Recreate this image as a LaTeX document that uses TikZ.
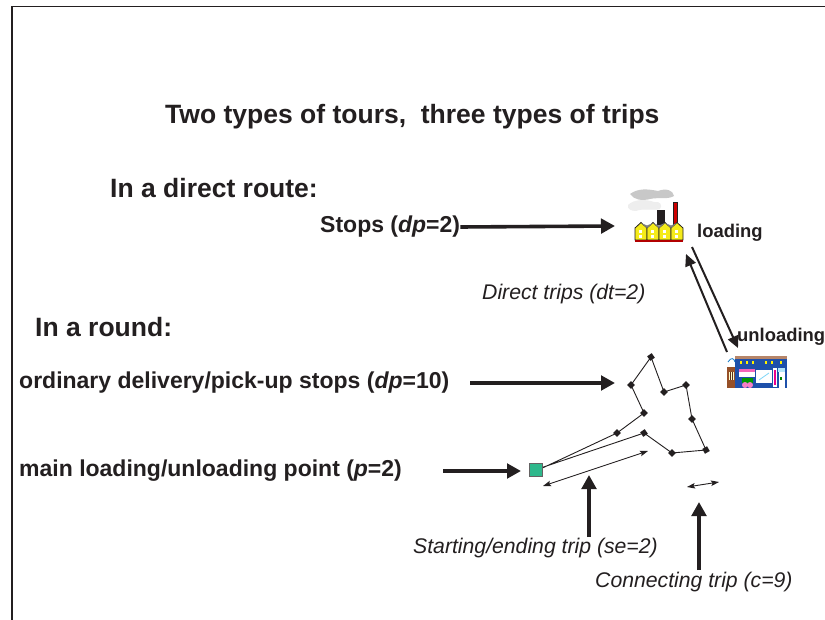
\documentclass[tikz,border=0pt]{standalone}
\usepackage{fontspec}
\setmainfont{Liberation Sans}
\usetikzlibrary{arrows.meta}
\definecolor{ink}{RGB}{35,31,32}
\definecolor{tealgreen}{RGB}{46,184,140}
\definecolor{fyellow}{RGB}{245,235,26}
\definecolor{sblue}{RGB}{30,80,170}
\definecolor{smoke}{RGB}{200,200,200}
\definecolor{brick}{RGB}{150,80,40}
\tikzset{
  head/.style={font=\bfseries\fontsize{26.5}{30}\selectfont, text=ink, anchor=west, inner sep=0pt},
  lab/.style={font=\bfseries\fontsize{23}{27}\selectfont, text=ink, anchor=west, inner sep=0pt},
  smalllab/.style={font=\bfseries\fontsize{18.4}{22}\selectfont, text=ink, anchor=west, inner sep=0pt},
  triplab/.style={font=\itshape\fontsize{21.2}{25}\selectfont, text=ink, anchor=west, inner sep=0pt},
  bigarrow/.style={draw=ink, line width=3.6pt, -{Triangle[length=14pt,width=14.5pt]}},
  midarrow/.style={draw=ink, line width=2pt, -{Triangle[length=12pt,width=11pt]}},
  thinarrow/.style={draw=ink, line width=0.9pt, {Stealth[length=8pt,width=5.5pt,inset=1.5pt]}-{Stealth[length=8pt,width=5.5pt,inset=1.5pt]}},
  edge/.style={draw=ink, line width=0.9pt},
  vert/.style={fill=ink, rectangle, minimum size=5.5pt, inner sep=0pt, rotate=45},
  frame/.style={draw=ink, line width=1.5pt}
}
\begin{document}
\begin{tikzpicture}[x=1pt,y=-1pt]
\useasboundingbox (0,0) rectangle (825,620);
\fill[white] (0,0) rectangle (825,620);
% frame
\draw[frame] (12,620) -- (12,6.5) -- (825,6.5);

% texts
\node[head] (title) at (165,117) {Two types of tours,\ \ three types of trips};
\node[head] (direct) at (110,188) {In a direct route:};
\node[lab] (stops) at (320,227) {Stops (\textit{dp}=2)};
\node[smalllab] (loading) at (697,233) {loading};
\node[triplab] (dtrips) at (482,294) {Direct trips (dt=2)};
\node[head] (round) at (35,327) {In a round:};
\node[smalllab] (unloading) at (737,337) {unloading};
\node[lab] (ordinary) at (19,383) {ordinary delivery/pick-up stops (\textit{dp}=10)};
\node[lab] (mainpt) at (19,471) {main loading/unloading point (\textit{p}=2)};
\node[triplab] (starttxt) at (413,548) {Starting/ending trip (se=2)};
\node[triplab] (conntxt) at (595,582) {Connecting trip (c=9)};

% factory icon
\node[inner sep=0pt, minimum width=52pt, minimum height=54pt] (factory) at (657,216) {};
\begin{scope}
  \fill[smoke] (630,194) .. controls (638,188) and (648,189) .. (658,191) .. controls (666,188) and (673,190) .. (674,196) .. controls (667,200) and (658,197) .. (650,199) .. controls (642,201) and (634,200) .. (630,194) -- cycle;
  \fill[smoke!85!black!20!white] (628,205) .. controls (634,199) and (646,199) .. (654,202) .. controls (660,201) and (663,205) .. (660,209) .. controls (653,211) and (643,208) .. (636,211) .. controls (631,211) and (627,209) .. (628,205) -- cycle;
  \fill[ink] (657,210) rectangle (665,225);
  \fill[red!80!black] (673,202) rectangle (677,225);
  \draw[ink, line width=0.5pt] (673,202) rectangle (677,225);
  \foreach \i in {0,1,2,3}{
    \pgfmathsetmacro{\L}{635+12*\i}
    \pgfmathsetmacro{\R}{\L+12}
    \pgfmathsetmacro{\C}{\L+6}
    \filldraw[fill=fyellow, draw=ink, line width=0.8pt] (\L,240) -- (\L,228) -- (\C,222.5) -- (\R,228) -- (\R,240) -- cycle;
    \fill[white] (\C-2.2,230) rectangle ++(2.8,2.8);
    \fill[white] (\C-2.2,235.5) rectangle ++(2.8,2.8);
  }
  \foreach \i in {0,1,2}{
    \pgfmathsetmacro{\Ca}{635+6+12*\i}
    \pgfmathsetmacro{\Cb}{\Ca+12}
    \pgfmathsetmacro{\M}{\Ca+6}
    \fill[gray] (\Ca,223) -- (\M,228) -- (\Cb,223) -- (\M,225.5) -- cycle;
  }
  \fill[red!70!black] (635,240) rectangle (683,242);
\end{scope}

% shop icon
\node[inner sep=0pt, minimum width=60pt, minimum height=34pt] (shop) at (757,371) {};
\begin{scope}
  \fill[brick] (727,367) rectangle (736,388);
  \fill[white] (727,360) rectangle (736,367);
  \draw[cyan!60!blue, line width=0.8pt] (728,362) .. controls (731,357) and (734,358) .. (735,362);
  \fill[white!80!yellow] (729,372) rectangle (734,380);
  \draw[brick!60!black, line width=0.5pt] (730.5,372) -- (730.5,380) (732.5,372) -- (732.5,380);
  \fill[sblue] (735,357) rectangle (787,388);
  \fill[brick!70!white] (735,356) rectangle (787,359);
  \foreach \x in {740,746,752,765,771,780}{\fill[yellow] (\x,361.5) rectangle ++(2.2,2.5);}
  \fill[white] (739,369) rectangle (755,377);
  \fill[magenta!60] (739,369) rectangle (755,372);
  \fill[green!60!black] (742,378) rectangle (753,383);
  \fill[magenta!50] (745,385) circle (3);
  \fill[magenta!50] (750,385) circle (3);
  \fill[white] (756,370) rectangle (772,383);
  \draw[cyan!50, line width=0.8pt] (759,380) -- (769,373);
  \fill[white] (773,368) rectangle (777,387);
  \fill[magenta] (774,370) rectangle (776,385);
  \fill[cyan!30] (778,368) rectangle (785,372);
  \fill[white] (779,372) rectangle (785,388);
  \fill[green!50!black] (780,377) rectangle (782,380);
\end{scope}

% direct route arrows
\coordinate (stopsTip) at (615,226);
\draw[bigarrow] (stops.east) -- (stopsTip);
\coordinate (fA) at (692,247);
\coordinate (sA) at (738,348);
\coordinate (sB) at (727,352);
\coordinate (fB) at (686,254);
\draw[midarrow] (fA) -- (sA);
\draw[midarrow] (sB) -- (fB);

% round: vertices
\node[draw=ink!70, fill=tealgreen, line width=0.6pt, minimum size=13.5pt, inner sep=0pt] (g) at (536,470) {};
\node[vert] (v1) at (617,433) {};
\node[vert] (v2) at (644,413) {};
\node[vert] (v3) at (631,385) {};
\node[vert, rotate=-10] (v4) at (651,357) {};
\node[vert] (v5) at (664,392) {};
\node[vert] (v6) at (686,385) {};
\node[vert] (v7) at (692,419) {};
\node[vert, rotate=-15] (v8) at (706,450) {};
\node[vert] (v9) at (672,453) {};
\node[vert, rotate=-10] (v10) at (644,433) {};
\draw[edge] (g.18) -- (v1.center) -- (v2.center) -- (v3.center) -- (v4.center) -- (v5.center) -- (v6.center) -- (v7.center) -- (v8.center) -- (v9.center) -- (v10.center) -- (g.22);

% starting/ending trip and connecting trip
\coordinate (seA) at (543,486);
\coordinate (seB) at (648,451);
\draw[thinarrow] (seA) -- (seB);
\coordinate (cA) at (687,487);
\coordinate (cB) at (719,482);
\draw[thinarrow] (cA) -- (cB);

% round arrows
\coordinate (ordTail) at (470,383);
\coordinate (ordTip) at (615,383);
\draw[bigarrow] (ordTail) -- (ordTip);
\coordinate (mainTail) at (443,471);
\coordinate (mainTip) at (521,471);
\draw[bigarrow] (mainTail) -- (mainTip);
\coordinate (seTail) at (589,537);
\coordinate (seTip) at (589,475);
\draw[bigarrow] (seTail) -- (seTip);
\coordinate (cTail) at (699,570);
\coordinate (cTip) at (699,502);
\draw[bigarrow] (cTail) -- (cTip);
\end{tikzpicture}
\end{document}
